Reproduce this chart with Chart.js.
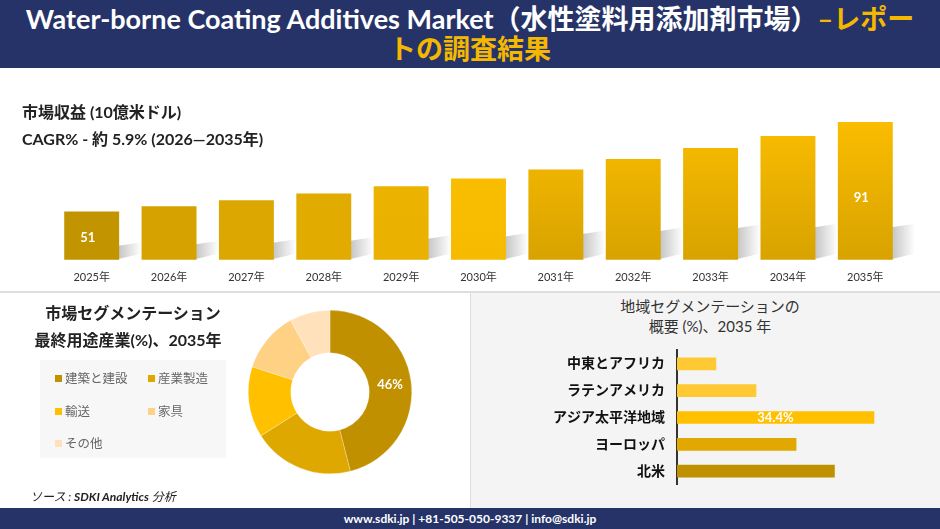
<!DOCTYPE html>
<html>
<head>
<meta charset="utf-8">
<script src="https://cdn.jsdelivr.net/npm/chart.js@4.4.1/dist/chart.umd.min.js"></script>
<style>
  html, body { margin: 0; padding: 0; }
  body { width: 940px; height: 529px; position: relative; overflow: hidden; background: #fff;
         font-family: Lato, "Noto Sans CJK JP", sans-serif; color: #222; }
  .abs { position: absolute; }
  #header { left: 0; top: 0; width: 940px; height: 68px; background: #263369; }
  #title { left: 0; top: 4px; width: 940px; text-align: center; color: #fff; font-weight: bold;
           font-size: 27px; line-height: 30px; white-space: nowrap; }
  #title .hl { color: #f5b800; }
  .rev { left: 22px; font-size: 16px; font-weight: bold; color: #222; }
  #divider { left: 0; top: 291px; width: 940px; height: 2px; background: #dedede; }
  #rightPanel { left: 470px; top: 293px; width: 470px; height: 215px; background: #f4f4f4; border-left: 1px solid #ddd; }
  .segTitle { text-align: center; font-weight: bold; font-size: 16px; color: #222; }
  #legendBox { left: 40px; top: 360px; width: 186px; height: 98px; background: #f7f7f7; }
  .lg { position: absolute; font-size: 12.5px; color: #666; white-space: nowrap; }
  .lg span { display: inline-block; width: 7px; height: 7px; margin-right: 3px; vertical-align: 1px; }
  #regTitle { left: 470px; top: 296px; width: 480px; text-align: center; font-size: 15px; line-height: 20px; color: #333; }
  #source { left: 30px; top: 487px; font-size: 12px; font-style: italic; color: #222; }
  #footer { left: 0; top: 508px; width: 940px; height: 21px; background: #263369; color: #fff;
            text-align: center; font-size: 12px; font-weight: bold; line-height: 21px; }
</style>
</head>
<body>
<div id="header" class="abs"></div>
<div id="title" class="abs">Water-borne Coating Additives Market（水性塗料用添加剤市場）<span class="hl">–レポー<br>トの調査結果</span></div>

<canvas id="revChart" class="abs" style="left:0;top:95px" width="940" height="206"></canvas>
<div class="abs rev" style="top:99px">市場収益 (10億米ドル)</div>
<div class="abs rev" style="top:126px">CAGR% - 約 5.9% (2026—2035年)</div>

<div id="divider" class="abs"></div>
<div id="rightPanel" class="abs"></div>

<div class="abs segTitle" style="left:33px;top:300px;width:200px">市場セグメンテーション</div>
<div class="abs segTitle" style="left:28px;top:327px;width:200px">最終用途産業(%)、2035年</div>
<div id="legendBox" class="abs"></div>
<canvas id="segChart" class="abs" style="left:245px;top:307px" width="170" height="170"></canvas>
<div id="source" class="abs">ソース : <b>SDKI Analytics</b> 分析</div>

<div id="regTitle" class="abs">地域セグメンテーションの<br>概要 (%)、2035 年</div>
<canvas id="regChart" class="abs" style="left:470px;top:330px" width="470" height="175"></canvas>

<div id="footer" class="abs">www.sdki.jp | +81-505-050-9337 | info@sdki.jp</div>

<script>
// market revenue (USD billion)
var years = ['2025年', '2026年', '2027年', '2028年', '2029年', '2030年', '2031年', '2032年', '2033年', '2034年', '2035年'];
var revenue = [51, 53.4, 56, 59.1, 62.3, 65.8, 69.8, 74.5, 79.4, 84.8, 91];

// end use industry share 2035
var segLabels = ['建築と建設', '産業製造', '輸送', '家具', 'その他'];
var segShare = [46, 20, 14, 12, 8];

// regional share 2035
var regions = ['中東とアフリカ', 'ラテンアメリカ', 'アジア太平洋地域', 'ヨーロッパ', '北米'];
var regShare = [6.8, 13.8, 34.4, 20.8, 27.5];

var barTop = ['#c29400', '#d6a200', '#dba700', '#e1ab00', '#eeb400', '#fdbf00', '#ffc000', '#ffc000', '#ffc000', '#ffc000', '#ffc000'];
var barBottom = ['#c29400', '#d6a200', '#dba700', '#e1ab00', '#eab100', '#f6bb00', '#d8a300', '#d8a300', '#d8a300', '#d8a300', '#d8a300'];
var segColors = ['#c09000', '#dfa800', '#ffc000', '#ffd184', '#ffe2bc'];
var regColors = ['#ffc933', '#ffc933', '#ffc000', '#e0a800', '#bf9000'];

var FONT = 'Lato, "Noto Sans CJK JP", sans-serif';

// grey perspective shadow behind the revenue bars
var barShadow = {
    id: 'barShadow',
    beforeDatasetsDraw(chart) {
        var ctx = chart.ctx;
        var bottom = chart.chartArea.bottom;
        chart.getDatasetMeta(0).data.forEach(function(bar) {
            var right = bar.x + bar.width / 2;
            var sh = Math.min(32, (bottom - bar.y) * 0.28);
            ctx.save();
            var g = ctx.createLinearGradient(right, 0, right + 22, 0);
            g.addColorStop(0, 'rgba(0,0,0,0.22)');
            g.addColorStop(1, 'rgba(0,0,0,0)');
            ctx.fillStyle = g;
            ctx.beginPath();
            ctx.moveTo(right - 4, bottom);
            ctx.lineTo(right - 4, bottom - sh);
            ctx.lineTo(right + 22, bottom - sh - 4);
            ctx.lineTo(right + 22, bottom - 6);
            ctx.closePath();
            ctx.fill();
            ctx.restore();
        });
    }
};

// value text on chosen bars / slices
var valueLabels = {
    id: 'valueLabels',
    afterDatasetsDraw(chart, args, options) {
        var ctx = chart.ctx;
        var meta = chart.getDatasetMeta(0);
        ctx.save();
        ctx.fillStyle = '#fff';
        ctx.font = 'bold ' + (options.size || 13) + 'px ' + FONT;
        ctx.textAlign = 'center';
        ctx.textBaseline = 'middle';
        (options.show || []).forEach(function(i) {
            var el = meta.data[i];
            var txt = options.format(chart.data.datasets[0].data[i]);
            var x, y;
            if (chart.config.type === 'doughnut') {
                var p = el.tooltipPosition();
                x = p.x; y = p.y;
            } else if (chart.options.indexAxis === 'y') {
                x = (el.x + el.base) / 2; y = el.y;
            } else {
                var b = chart.chartArea.bottom;
                x = el.x - 4; y = b - (b - el.y) * 0.45;
            }
            ctx.fillText(txt, x, y);
        });
        ctx.restore();
    }
};

new Chart(document.getElementById('revChart'), {
    type: 'bar',
    data: {
        labels: years,
        datasets: [{
            data: revenue,
            backgroundColor: function(c) {
                var area = c.chart.chartArea;
                if (!area) return barTop[c.dataIndex];
                var el = c.chart.getDatasetMeta(0).data[c.dataIndex];
                var top = el && el.y ? el.y : area.top;
                var g = c.chart.ctx.createLinearGradient(0, top, 0, area.bottom);
                g.addColorStop(0, barTop[c.dataIndex]);
                g.addColorStop(1, barBottom[c.dataIndex]);
                return g;
            },
            borderWidth: 0,
            barPercentage: 0.71,
            categoryPercentage: 1
        }]
    },
    options: {
        responsive: false,
        animation: false,
        layout: { padding: { left: 53, right: 36, top: 7, bottom: 6 } },
        plugins: {
            legend: { display: false },
            tooltip: { enabled: false },
            valueLabels: { show: [0, 10], size: 13, format: function(v) { return v; } }
        },
        scales: {
            x: {
                grid: { display: false, drawTicks: false },
                border: { display: false },
                ticks: { color: '#333', font: { size: 11, family: FONT }, padding: 11 }
            },
            y: { display: false, min: 29.4, max: 100 }
        }
    },
    plugins: [barShadow, valueLabels]
});

new Chart(document.getElementById('segChart'), {
    type: 'doughnut',
    data: {
        labels: segLabels,
        datasets: [{
            data: segShare,
            backgroundColor: segColors,
            borderColor: 'rgba(255,255,255,0.5)',
            borderWidth: 0.5
        }]
    },
    options: {
        responsive: false,
        animation: false,
        cutout: '48%',
        layout: { padding: 3 },
        plugins: {
            legend: { display: false },
            tooltip: { enabled: false },
            valueLabels: { show: [0], size: 13, format: function(v) { return v + '%'; } }
        }
    },
    plugins: [valueLabels]
});

// legend boxes built from the segment arrays
var legendPos = [[55, 368], [148, 368], [55, 401], [148, 401], [55, 433]];
segLabels.forEach(function(l, i) {
    var d = document.createElement('div');
    d.className = 'lg';
    d.style.left = legendPos[i][0] + 'px';
    d.style.top = legendPos[i][1] + 'px';
    d.innerHTML = '<span style="background:' + segColors[i] + '"></span>' + l;
    document.body.appendChild(d);
});

new Chart(document.getElementById('regChart'), {
    type: 'bar',
    data: {
        labels: regions,
        datasets: [{
            data: regShare,
            backgroundColor: regColors,
            borderWidth: 0,
            barThickness: 12
        }]
    },
    options: {
        indexAxis: 'y',
        responsive: false,
        animation: false,
        layout: { padding: { left: 0, right: 34, top: 10.5, bottom: 9.5 } },
        plugins: {
            legend: { display: false },
            tooltip: { enabled: false },
            valueLabels: { show: [2], size: 13, format: function(v) { return v + '%'; } }
        },
        scales: {
            x: { display: false, min: 0, max: 40 },
            y: {
                afterFit: function(scale) { scale.width = 207; },
                grid: { display: false, drawTicks: false },
                border: { display: true, color: '#333', width: 2 },
                ticks: { color: '#111', font: { size: 14, weight: 'bold', family: FONT }, padding: 12 }
            }
        }
    },
    plugins: [valueLabels]
});
</script>
</body>
</html>
